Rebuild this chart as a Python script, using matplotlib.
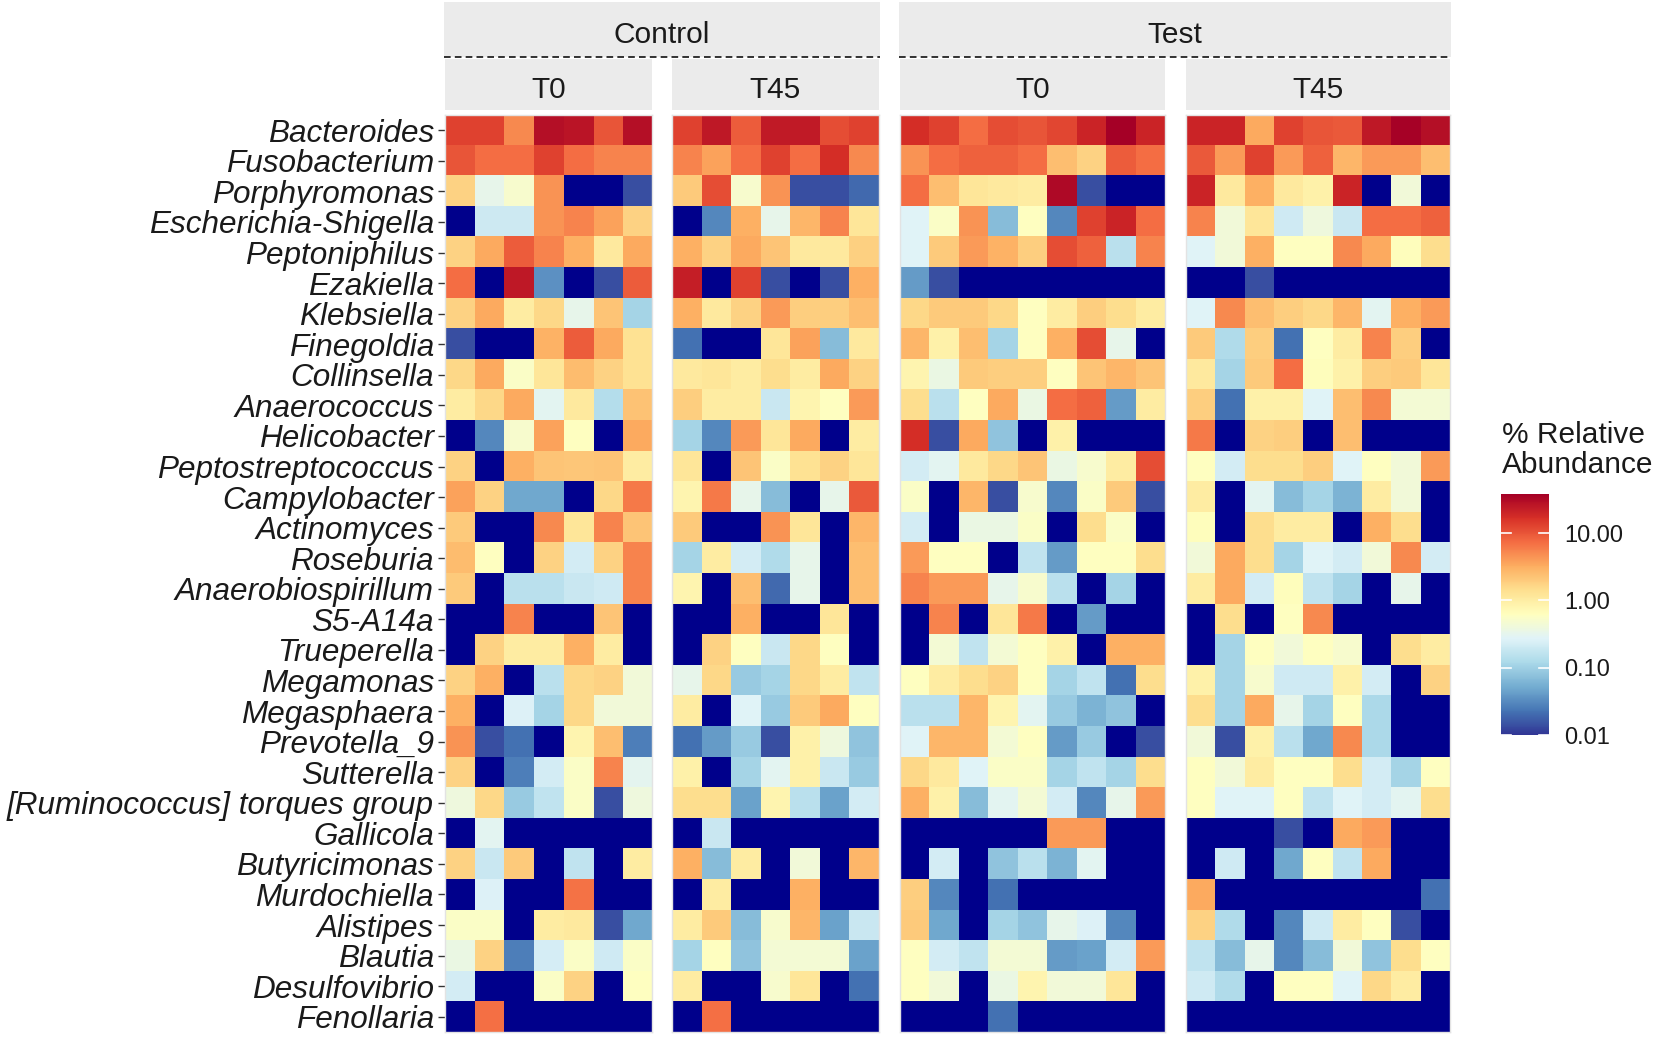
import numpy as np
import matplotlib
matplotlib.use('Agg')
import matplotlib.pyplot as plt
from matplotlib.colors import LogNorm
from matplotlib.cm import ScalarMappable
from matplotlib.patches import Rectangle
from matplotlib.lines import Line2D

plt.rcParams['font.family'] = ['Liberation Sans', 'DejaVu Sans']

# genera, top to bottom
genera = ['Bacteroides', 'Fusobacterium', 'Porphyromonas', 'Escherichia-Shigella',
          'Peptoniphilus', 'Ezakiella', 'Klebsiella', 'Finegoldia', 'Collinsella',
          'Anaerococcus', 'Helicobacter', 'Peptostreptococcus', 'Campylobacter',
          'Actinomyces', 'Roseburia', 'Anaerobiospirillum', 'S5-A14a', 'Trueperella',
          'Megamonas', 'Megasphaera', 'Prevotella_9', 'Sutterella',
          '[Ruminococcus] torques group', 'Gallicola', 'Butyricimonas', 'Murdochiella',
          'Alistipes', 'Blautia', 'Desulfovibrio', 'Fenollaria']

groups = ['Control', 'Test']
times = ['T0', 'T45']

# % relative abundance, one row per genus, one column per sample (0 = not detected)
ctrl_t0 = [
    [13, 13, 5, 29, 26, 10, 29],
    [10, 7.2, 7.2, 13, 7.2, 5.5, 5.5],
    [1.75, 0.33, 0.5, 4.5, 0, 0, 0.014],
    [0, 0.2, 0.2, 4.5, 5.5, 3.7, 1.75],
    [1.75, 3.3, 9, 5.5, 3, 1.1, 3.3],
    [7.2, 0, 25, 0.035, 0, 0.014, 9],
    [1.75, 3.3, 1.0, 1.6, 0.33, 2.2, 0.11],
    [0.014, 0, 0, 2.9, 9, 3.3, 1.3],
    [1.6, 3.3, 0.55, 1.2, 2.5, 1.75, 1.3],
    [1.0, 1.6, 3.3, 0.3, 1.1, 0.14, 2.3],
    [0, 0.03, 0.5, 3.7, 0.6, 0, 3.3],
    [1.75, 0, 3.0, 2.2, 2.1, 2.2, 1.0],
    [3.7, 1.75, 0.05, 0.05, 0, 1.6, 6.2],
    [2.0, 0, 0, 5, 1.2, 5.5, 2.2],
    [2.5, 0.6, 0, 1.75, 0.22, 1.75, 5.5],
    [2.0, 0, 0.15, 0.15, 0.19, 0.21, 5.5],
    [0, 0, 5.5, 0, 0, 2.2, 0],
    [0, 1.75, 1.0, 1.0, 3.0, 1.0, 0],
    [1.75, 3.0, 0, 0.15, 1.6, 1.75, 0.42],
    [3.0, 0, 0.26, 0.11, 1.6, 0.42, 0.42],
    [4.5, 0.014, 0.022, 0, 0.8, 2.4, 0.027],
    [1.75, 0, 0.027, 0.22, 0.55, 5.5, 0.31],
    [0.4, 1.6, 0.09, 0.17, 0.55, 0.014, 0.4],
    [0, 0.3, 0, 0, 0, 0, 0],
    [1.75, 0.19, 2.0, 0, 0.17, 0, 1.0],
    [0, 0.26, 0, 0, 6.8, 0, 0],
    [0.55, 0.55, 0, 1.0, 1.1, 0.014, 0.05],
    [0.36, 1.75, 0.027, 0.23, 0.55, 0.21, 0.55],
    [0.22, 0, 0, 0.55, 1.75, 0, 0.6],
    [0, 7, 0, 0, 0, 0, 0],
]

ctrl_t45 = [
    [13, 25, 9, 24, 24, 11, 13],
    [5.5, 3.7, 7.2, 13, 7.2, 17, 5],
    [2.0, 11, 0.5, 4.5, 0.014, 0.014, 0.02],
    [0, 0.03, 3.0, 0.33, 2.75, 5.5, 1.2],
    [3.0, 1.75, 3.3, 2.2, 1.1, 1.1, 1.8],
    [22, 0, 13, 0.014, 0, 0.014, 3.0],
    [3.0, 1.1, 1.75, 4.0, 1.9, 1.9, 2.4],
    [0.022, 0, 0, 1.2, 3.7, 0.07, 1.1],
    [1.1, 1.2, 1.0, 1.45, 1.0, 3.3, 1.75],
    [1.85, 1.0, 1.0, 0.19, 0.8, 0.6, 4.0],
    [0.11, 0.03, 4.0, 1.2, 3.3, 0, 1.0],
    [1.2, 0, 2.2, 0.55, 1.3, 1.75, 1.2],
    [0.8, 6.2, 0.33, 0.07, 0, 0.33, 9.3],
    [2.0, 0, 0, 4.5, 1.2, 0, 2.75],
    [0.11, 1.0, 0.22, 0.13, 0.33, 0, 2.4],
    [0.8, 0, 2.4, 0.02, 0.33, 0, 2.4],
    [0, 0, 3.0, 0, 0, 1.2, 0],
    [0, 1.75, 0.6, 0.19, 1.6, 0.6, 0],
    [0.33, 1.6, 0.09, 0.11, 1.6, 1.0, 0.17],
    [1.0, 0, 0.27, 0.09, 2.0, 3.3, 0.6],
    [0.022, 0.04, 0.09, 0.014, 0.9, 0.4, 0.08],
    [0.9, 0, 0.11, 0.3, 0.9, 0.19, 0.09],
    [1.45, 1.45, 0.045, 0.8, 0.15, 0.045, 0.22],
    [0, 0.19, 0, 0, 0, 0, 0],
    [3.0, 0.07, 1.0, 0, 0.42, 0, 2.75],
    [0, 1.0, 0, 0, 3.0, 0, 0],
    [1.0, 2.0, 0.07, 0.5, 2.75, 0.045, 0.19],
    [0.11, 0.6, 0.08, 0.45, 0.45, 0.45, 0.045],
    [1.0, 0, 0, 0.5, 1.2, 0, 0.022],
    [0, 7, 0, 0, 0, 0, 0],
]

test_t0 = [
    [17, 13, 7.2, 11, 10, 12, 20, 38, 20],
    [4.5, 7.2, 8.5, 8.5, 7.2, 2.4, 1.75, 9, 7.2],
    [7.2, 2.4, 1.2, 1.1, 1.0, 32, 0.014, 0, 0],
    [0.27, 0.55, 4.5, 0.07, 0.6, 0.03, 13, 20, 7.2],
    [0.27, 2.0, 4.0, 2.9, 1.9, 11, 8.5, 0.15, 5.5],
    [0.04, 0.014, 0, 0, 0, 0, 0, 0, 0],
    [1.6, 2.0, 2.0, 1.6, 0.6, 1.0, 1.85, 1.45, 1.0],
    [2.75, 0.9, 2.4, 0.11, 0.6, 3.0, 11, 0.33, 0],
    [0.8, 0.36, 2.0, 1.85, 1.9, 0.6, 2.2, 2.75, 2.2],
    [1.45, 0.15, 0.6, 3.3, 0.36, 7.2, 8.5, 0.04, 1.0],
    [17, 0.014, 3.3, 0.08, 0, 0.9, 0, 0, 0],
    [0.22, 0.3, 1.1, 1.6, 2.2, 0.36, 0.5, 1.0, 11],
    [0.55, 0, 2.75, 0.014, 0.5, 0.03, 0.55, 2.0, 0.014],
    [0.22, 0, 0.36, 0.36, 0.55, 0, 1.45, 0.55, 0],
    [4.0, 0.6, 0.6, 0, 0.17, 0.04, 0.6, 0.6, 1.45],
    [5.5, 4.0, 4.0, 0.33, 0.5, 0.15, 0, 0.11, 0],
    [0, 5.5, 0, 1.2, 6.2, 0, 0.04, 0, 0],
    [0, 0.45, 0.17, 0.45, 0.6, 0.9, 0, 3.0, 3.0],
    [0.6, 1.0, 1.45, 1.75, 0.6, 0.11, 0.17, 0.022, 1.45],
    [0.15, 0.15, 2.75, 0.8, 0.3, 0.09, 0.06, 0.08, 0],
    [0.27, 2.75, 2.75, 0.45, 0.6, 0.04, 0.09, 0, 0.014],
    [1.6, 1.1, 0.27, 0.55, 0.55, 0.11, 0.17, 0.11, 1.45],
    [3.0, 0.9, 0.07, 0.3, 0.45, 0.22, 0.03, 0.33, 4.0],
    [0, 0, 0, 0, 0, 4.0, 4.0, 0, 0],
    [0, 0.22, 0, 0.08, 0.15, 0.06, 0.3, 0, 0],
    [1.85, 0.03, 0, 0.022, 0, 0, 0, 0, 0],
    [2.0, 0.05, 0, 0.11, 0.08, 0.33, 0.26, 0.03, 0],
    [0.6, 0.22, 0.17, 0.45, 0.45, 0.04, 0.045, 0.22, 4.0],
    [0.6, 0.42, 0, 0.36, 0.8, 0.42, 0.42, 1.2, 0],
    [0, 0, 0, 0.022, 0, 0, 0, 0, 0],
]

test_t45 = [
    [20, 20, 3.3, 13, 10, 9.3, 25, 36, 29],
    [9.3, 4.0, 13, 4.0, 8.5, 2.75, 4.0, 4.0, 2.4],
    [20, 1.1, 3.0, 1.1, 0.9, 20, 0, 0.42, 0],
    [5.5, 0.42, 1.2, 0.21, 0.4, 0.19, 7.2, 7.2, 8.5],
    [0.27, 0.42, 3.0, 0.6, 0.6, 5.0, 3.3, 0.65, 1.45],
    [0, 0, 0.014, 0, 0, 0, 0, 0, 0],
    [0.27, 5.0, 2.4, 1.85, 1.6, 2.75, 0.3, 3.0, 4.0],
    [2.0, 0.13, 1.85, 0.022, 0.6, 1.0, 5.5, 1.85, 0],
    [1.1, 0.11, 2.0, 7.2, 0.65, 0.9, 1.85, 2.0, 1.2],
    [1.85, 0.022, 0.9, 0.9, 0.27, 2.4, 5.0, 0.45, 0.45],
    [6.2, 0, 1.75, 1.85, 0, 2.4, 0, 0, 0],
    [0.6, 0.22, 1.45, 1.45, 1.85, 0.27, 0.6, 0.42, 4.0],
    [1.0, 0, 0.3, 0.07, 0.11, 0.06, 1.0, 0.42, 0],
    [0.65, 0, 1.45, 1.0, 1.0, 0, 3.0, 1.45, 0],
    [0.42, 3.3, 1.45, 0.11, 0.27, 0.22, 0.42, 5.0, 0.22],
    [1.0, 3.3, 0.22, 0.65, 0.17, 0.11, 0, 0.33, 0],
    [0, 1.45, 0, 0.6, 5.0, 0, 0, 0, 0],
    [0, 0.11, 0.6, 0.42, 0.6, 0.5, 0, 1.45, 1.0],
    [0.9, 0.11, 0.5, 0.21, 0.21, 0.9, 0.22, 0, 1.75],
    [1.45, 0.11, 3.3, 0.33, 0.11, 0.6, 0.12, 0, 0],
    [0.42, 0.014, 0.9, 0.15, 0.05, 5.0, 0.12, 0, 0],
    [0.6, 0.42, 1.0, 0.6, 0.6, 1.45, 0.22, 0.11, 0.6],
    [0.6, 0.27, 0.27, 0.6, 0.17, 0.27, 0.22, 0.3, 1.45],
    [0, 0, 0, 0.014, 0, 3.3, 4.0, 0, 0],
    [0, 0.21, 0, 0.05, 0.6, 0.17, 3.3, 0, 0],
    [3.3, 0, 0, 0, 0, 0, 0, 0, 0.022],
    [1.75, 0.13, 0, 0.03, 0.21, 1.0, 0.6, 0.014, 0],
    [0.17, 0.07, 0.33, 0.03, 0.07, 0.42, 0.08, 1.45, 0.6],
    [0.21, 0.13, 0, 0.6, 0.6, 0.27, 1.6, 1.0, 0],
    [0, 0, 0, 0, 0, 0, 0, 0, 0],
]

cbar_ticks = [0.01, 0.1, 1, 10]
cbar_labels = ['0.01', '0.10', '1.00', '10.00']

W, H = 1654, 1038
fig = plt.figure(figsize=(W / 100, H / 100), dpi=100)
fig.patch.set_facecolor('white')

cmap = plt.get_cmap('RdYlBu_r').with_extremes(bad='#00008B')
norm = LogNorm(vmin=0.01, vmax=38)
txt = '#1a1a1a'
strip_bg = '#EBEBEB'

def box(x0, x1, y0, y1):
    # pixel box (y from top) -> figure fraction rect
    return [x0 / W, 1 - y1 / H, (x1 - x0) / W, (y1 - y0) / H]

top, bottom = 115, 1032
panel_x = [(445, 652), (672, 879), (900, 1165), (1186, 1450)]
panel_data = [ctrl_t0, ctrl_t45, test_t0, test_t45]
nrow = len(genera)

for i, (vals, (x0, x1)) in enumerate(zip(panel_data, panel_x)):
    arr = np.ma.masked_less_equal(np.array(vals, dtype=float), 0)
    ncol = arr.shape[1]
    ax = fig.add_axes(box(x0, x1, top, bottom))
    ax.imshow(arr, cmap=cmap, norm=norm, aspect='auto', interpolation='nearest',
              extent=(0, ncol, nrow, 0))
    ax.set_xlim(0, ncol)
    ax.set_ylim(nrow, 0)
    ax.set_xticks([])
    if i == 0:
        ax.set_yticks(np.arange(nrow) + 0.5)
        ax.set_yticklabels(genera, fontsize=22.7, style='italic', color=txt)
        ax.tick_params(axis='y', length=5, width=1, color='#333333', pad=3)
    else:
        ax.set_yticks([])
    for s in ax.spines.values():
        s.set_color('#e3e3e3')
        s.set_linewidth(1)

    # inner strip (time point)
    fig.patches.append(Rectangle(box(x0, x1, 59, 110)[:2], (x1 - x0) / W, 51 / H,
                                 transform=fig.transFigure, facecolor=strip_bg,
                                 edgecolor='none'))
    fig.text((x0 + x1) / 2 / W, 1 - 98 / H, times[i % 2], ha='center', va='baseline',
             fontsize=21.5, color=txt)

# outer strips (group) with dashed separator
for g, (x0, x1) in zip(groups, [(444, 880), (899, 1451)]):
    fig.patches.append(Rectangle(box(x0, x1, 2, 57)[:2], (x1 - x0) / W, 55 / H,
                                 transform=fig.transFigure, facecolor=strip_bg,
                                 edgecolor='none'))
    fig.text((x0 + x1) / 2 / W, 1 - 43 / H, g, ha='center', va='baseline',
             fontsize=21.5, color=txt)
    fig.add_artist(Line2D([x0 / W, x1 / W], [1 - 57 / H, 1 - 57 / H],
                          transform=fig.transFigure, color='#111111',
                          linestyle=(0, (4, 2.5)), linewidth=1.2))

# colour bar
cax = fig.add_axes(box(1501, 1549, 494, 735))
cb = fig.colorbar(ScalarMappable(norm=norm, cmap=cmap), cax=cax)
cb.outline.set_visible(False)
cb.set_ticks(cbar_ticks)
cb.set_ticklabels(cbar_labels)
cax.minorticks_off()
cax.tick_params(length=0, labelsize=17, pad=11, labelcolor=txt)
for v in cbar_ticks:
    cax.axhline(v, 0, 0.2, color='white', linewidth=1.2)
    cax.axhline(v, 0.8, 1, color='white', linewidth=1.2)

fig.text(1502 / W, 1 - 443 / H, '% Relative', ha='left', va='baseline',
         fontsize=21.5, color=txt)
fig.text(1502 / W, 1 - 473 / H, 'Abundance', ha='left', va='baseline',
         fontsize=21.5, color=txt)

fig.savefig('out.png', dpi=100)
